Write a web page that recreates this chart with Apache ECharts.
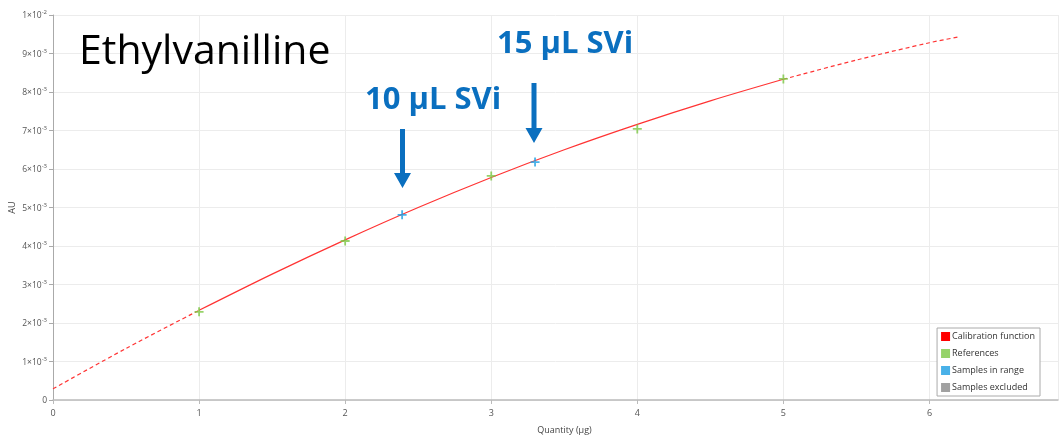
<!DOCTYPE html>
<html><head><meta charset="utf-8">
<script src="https://cdn.jsdelivr.net/npm/echarts@6/dist/echarts.min.js"></script>
<style>html,body{margin:0;padding:0;background:#fff}#c{width:1060px;height:436px}</style>
</head><body><div id="c"></div>
<script>
// Calibration curve (Quantity µg -> AU)
const curveX = [0, 0.5, 1, 1.5, 2, 2.5, 3, 3.5, 4, 4.5, 5, 5.5, 6, 6.2];
const curveY = [0.00029, 0.00134, 0.00233, 0.00327, 0.00416, 0.00500, 0.00578, 0.00650, 0.00716, 0.00777, 0.00833, 0.00883, 0.00928, 0.00943];
// Reference points
const refX = [1, 2, 3, 4, 5];
const refY = [0.00229, 0.00413, 0.00582, 0.00704, 0.00834];
// Samples in range
const sampX = [2.39, 3.30];
const sampY = [0.00481, 0.00618];
// Axis settings
const xTicks = [0, 1, 2, 3, 4, 5, 6];
const yMax = 0.01, yStep = 0.001;

const FONT = 'Open Sans';
const plus = 'path://M4,0h2v4h4v2h-4v4h-2v-4h-4v-2h4z';
const pts = (xs, ys) => xs.map((x, i) => [x, ys[i]]);
const curveAll = pts(curveX, curveY);
const solid = curveAll.filter(p => p[0] >= 1 && p[0] <= 5);
const dashLo = curveAll.filter(p => p[0] <= 1);
const dashHi = curveAll.filter(p => p[0] >= 5);
const red = '#ff3333';
const lineSeries = (data, type) => ({
  name: 'Calibration function', type: 'line', data, smooth: 0.3, showSymbol: false, symbol: 'none',
  lineStyle: { color: red, width: 1.2, type }, itemStyle: { color: '#ff0000' }, z: 2, silent: true
});

const chart = echarts.init(document.getElementById('c'), null, { renderer: 'canvas' });
chart.setOption({
  animation: false,
  textStyle: { fontFamily: FONT },
  grid: { left: 53, right: 2, top: 15, bottom: 36, containLabel: false, outerBoundsMode: 'none' },
  legend: {
    orient: 'vertical', right: 20, top: 328, icon: 'rect', itemWidth: 9, itemHeight: 9, itemGap: 8,
    padding: [4, 5, 4, 4], borderColor: '#aaa', borderWidth: 1, backgroundColor: '#fff',
    textStyle: { fontSize: 9, color: '#333', fontFamily: FONT, padding: [0, 0, 0, -3] },
    data: [
      { name: 'Calibration function', itemStyle: { color: '#ff0000' } },
      { name: 'References', itemStyle: { color: '#7cc843' } },
      { name: 'Samples in range', itemStyle: { color: '#1b9de2' } },
      { name: 'Samples excluded', itemStyle: { color: '#8a8a8a' } }
    ]
  },
  xAxis: {
    type: 'value', min: 0, max: 6.88, interval: 1,
    name: 'Quantity (µg)', nameLocation: 'middle', nameGap: 26, nameMoveOverlap: false,
    nameTextStyle: { fontSize: 9, color: '#444', fontFamily: FONT, padding: [0, 0, 0, 18] },
    axisLine: { show: true, onZero: false, lineStyle: { color: '#bbb', width: 1.5 } },
    axisTick: { show: true, length: 4, lineStyle: { color: '#bbb' } },
    axisLabel: { fontSize: 9, color: '#555', margin: 9, showMaxLabel: false,
      formatter: v => xTicks.includes(Math.round(v * 100) / 100) ? String(Math.round(v)) : '' },
    splitLine: { show: true, lineStyle: { color: '#ececec' } }
  },
  yAxis: {
    type: 'value', min: 0, max: yMax, interval: yStep,
    name: 'AU', nameLocation: 'middle', nameGap: 36, nameMoveOverlap: false,
    nameTextStyle: { fontSize: 9, color: '#444', fontFamily: FONT },
    axisLine: { show: true, lineStyle: { color: '#aaa', width: 1 } },
    axisTick: { show: true, length: 4, lineStyle: { color: '#aaa' } },
    axisLabel: {
      margin: 6, color: '#555',
      formatter: v => {
        const n = Math.round(v / yStep);
        if (n === 0) return '{m|0}';
        if (n === 10) return '{m|1×10}{s|-2}';
        return '{m|' + n + '×10}{s|-3}';
      },
      rich: {
        m: { fontSize: 8.5, color: '#555', fontFamily: FONT, verticalAlign: 'bottom', lineHeight: 11 },
        s: { fontSize: 6, color: '#555', fontFamily: FONT, verticalAlign: 'top', lineHeight: 7 }
      }
    },
    splitLine: { show: true, lineStyle: { color: '#ececec' } }
  },
  series: [
    lineSeries(solid, 'solid'),
    lineSeries(dashLo, [4, 3]),
    lineSeries(dashHi, [4, 3]),
    { name: 'References', type: 'scatter', data: pts(refX, refY), symbol: plus, symbolSize: 9,
      itemStyle: { color: '#7cc843' }, z: 3 },
    { name: 'Samples in range', type: 'scatter', data: pts(sampX, sampY), symbol: plus, symbolSize: 9,
      itemStyle: { color: '#1b9de2' }, z: 3 },
    { name: 'Samples excluded', type: 'scatter', data: [], symbol: plus, symbolSize: 9,
      itemStyle: { color: '#8a8a8a' } }
  ],
  graphic: [
    { type: 'text', left: 79, top: 32, style: { text: 'Ethylvanilline', font: '41px "Open Sans"', fill: '#000' }, z: 10 },
    { type: 'text', left: 365, top: 85, style: { text: '10 µL SVi', font: 'bold 31px "Open Sans"', fill: '#0a6fbf' }, z: 10 },
    { type: 'text', left: 497, top: 29, style: { text: '15 µL SVi', font: 'bold 31px "Open Sans"', fill: '#0a6fbf' }, z: 10 },
    { type: 'polygon', shape: { points: [[400, 129], [405, 129], [405, 173], [411, 173], [402.5, 188], [394, 173], [400, 173]] },
      style: { fill: '#0a6fbf' }, z: 10 },
    { type: 'polygon', shape: { points: [[531.5, 83], [536.5, 83], [536.5, 128], [542.5, 128], [534, 143], [525.5, 128], [531.5, 128]] },
      style: { fill: '#0a6fbf' }, z: 10 }
  ]
});
</script>
</body></html>
